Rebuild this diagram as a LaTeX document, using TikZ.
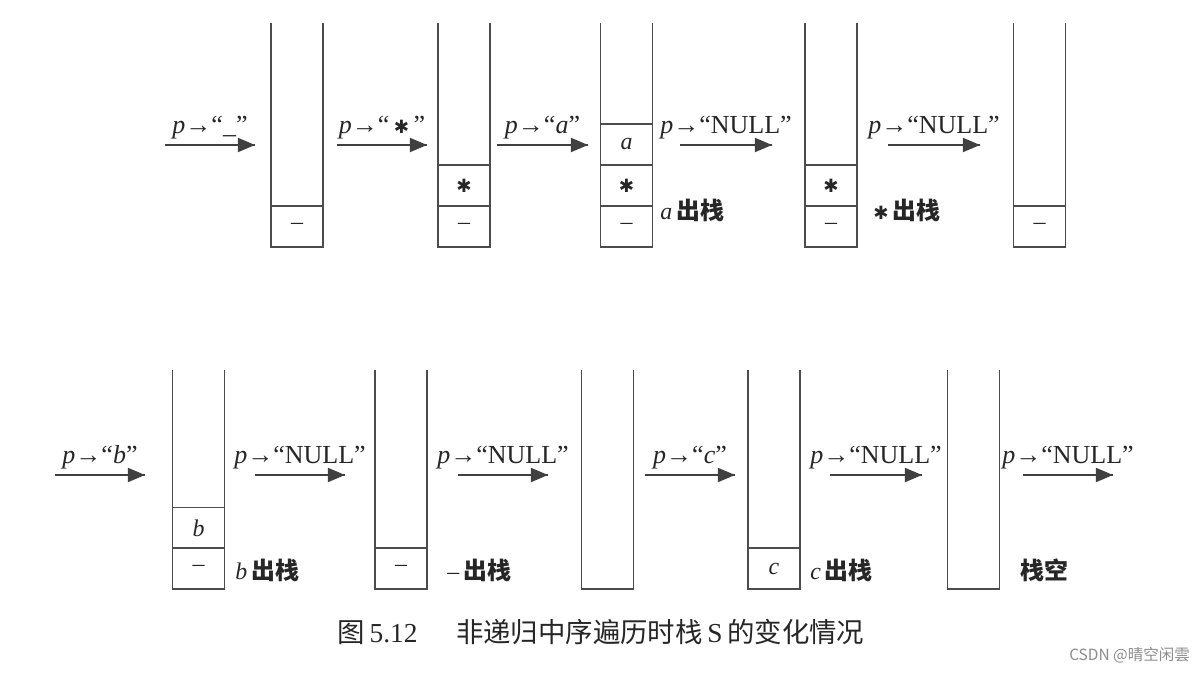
\documentclass[tikz,border=0pt]{standalone}
\usepackage{fontspec}
\setmainfont{Liberation Serif}
\newfontfamily\cjk{Noto Sans CJK SC}
\newfontfamily\symfont{DejaVu Sans}
\usetikzlibrary{arrows}
\usetikzlibrary{decorations.markings}
\usetikzlibrary{positioning}
\tikzset{push/.style = {line width = 1pt, draw = black!75,
                        decoration={markings,
                                    mark=at position 1 with {\arrow[scale=1.4, black!75]{triangle 45}}},
                        postaction={decorate}}}
\tikzset{wall/.style = {line width = 1.2pt, draw = black!70}}
\tikzset{cell/.style = {wall, rectangle, inner sep = 0, minimum width = 1.3cm,
                        minimum height = 1.025cm, text = black!85,
                        font = \fontsize{17}{17}\selectfont}}
\tikzset{lab/.style = {inner sep = 0, text = black!85, font = \fontsize{18.5}{18.5}\selectfont}}
\tikzset{pop/.style = {anchor = west, inner sep = 0, text = black!85,
                       font = \fontsize{17}{17}\selectfont}}
\newcommand{\astsym}{{\symfont\fontsize{13}{13}\selectfont ✱}}
\newcommand{\popzh}[1]{{\cjk\bfseries #1}}

\begin{document}
\begin{tikzpicture}[x = 0.025cm, y = -0.025cm]
      \useasboundingbox (0, 0) rectangle (1200, 674);

      % top row: stacks
      \draw [wall] (271, 23) -- (271, 247) -- (323, 247) -- (323, 23);
      \draw [wall] (438, 23) -- (438, 247) -- (490, 247) -- (490, 23);
      \draw [wall] (600.5, 23) -- (600.5, 247) -- (652.5, 247) -- (652.5, 23);
      \draw [wall] (805, 23) -- (805, 247) -- (857, 247) -- (857, 23);
      \draw [wall] (1013.5, 23) -- (1013.5, 247) -- (1065.5, 247) -- (1065.5, 23);

      \node [cell] (s1m) at (297, 226.5) {–};
      \node [cell] (s2s) at (464, 185.5) {\astsym};
      \node [cell] (s2m) at (464, 226.5) {–};
      \node [cell] (s3a) at (626.5, 144.5) {\textit{a}};
      \node [cell] (s3s) at (626.5, 185.5) {\astsym};
      \node [cell] (s3m) at (626.5, 226.5) {–};
      \node [cell] (s4s) at (831, 185.5) {\astsym};
      \node [cell] (s4m) at (831, 226.5) {–};
      \node [cell] (s5m) at (1039.5, 226.5) {–};

      \node [pop] (pop3) at (660, 210) {\textit{a}\,\popzh{出栈}};
      \node [pop] (pop4) at (873, 210) {\astsym\,\popzh{出栈}};

      % top row: p moves
      \coordinate (t1s) at (165, 145);  \coordinate (t1e) at (255, 145);
      \coordinate (t2s) at (337, 145);  \coordinate (t2e) at (427, 145);
      \coordinate (t3s) at (497, 145);  \coordinate (t3e) at (588, 145);
      \coordinate (t4s) at (680, 145);  \coordinate (t4e) at (772, 145);
      \coordinate (t5s) at (888, 145);  \coordinate (t5e) at (980, 145);
      \draw [push] (t1s) -- (t1e) node (t1l) [lab, midway, anchor = base, yshift = 8pt] {\textit{p}→“\_”};
      \draw [push] (t2s) -- (t2e) node (t2l) [lab, midway, anchor = base, yshift = 8pt] {\textit{p}→“\,\astsym\,”};
      \draw [push] (t3s) -- (t3e) node (t3l) [lab, midway, anchor = base, yshift = 8pt] {\textit{p}→“\textit{a}”};
      \draw [push] (t4s) -- (t4e) node (t4l) [lab, midway, anchor = base, yshift = 8pt] {\textit{p}→“NULL”};
      \draw [push] (t5s) -- (t5e) node (t5l) [lab, midway, anchor = base, yshift = 8pt] {\textit{p}→“NULL”};

      % bottom row: stacks
      \draw [wall] (172.5, 370) -- (172.5, 589) -- (224.5, 589) -- (224.5, 370);
      \draw [wall] (375, 370) -- (375, 589) -- (427, 589) -- (427, 370);
      \draw [wall] (581.5, 370) -- (581.5, 589) -- (633.5, 589) -- (633.5, 370);
      \draw [wall] (748, 370) -- (748, 589) -- (800, 589) -- (800, 370);
      \draw [wall] (947.5, 370) -- (947.5, 589) -- (999.5, 589) -- (999.5, 370);

      \node [cell] (s6b) at (198.5, 528) {\textit{b}};
      \node [cell] (s6m) at (198.5, 568.5) {–};
      \node [cell] (s7m) at (401, 568.5) {–};
      \node [cell] (s9c) at (774, 568.5) {\textit{c}};

      \node [pop] (pop6) at (235, 570) {\textit{b}\,\popzh{出栈}};
      \node [pop] (pop7) at (447, 570) {–\,\popzh{出栈}};
      \node [pop] (pop9) at (810, 570) {\textit{c}\,\popzh{出栈}};
      \node [pop] (pop10) at (1020, 570) {\popzh{栈空}};

      % bottom row: p moves
      \coordinate (b1s) at (55, 475);   \coordinate (b1e) at (145, 475);
      \coordinate (b2s) at (255, 475);  \coordinate (b2e) at (345, 475);
      \coordinate (b3s) at (458, 475);  \coordinate (b3e) at (548, 475);
      \coordinate (b4s) at (645, 475);  \coordinate (b4e) at (735, 475);
      \coordinate (b5s) at (830, 475);  \coordinate (b5e) at (922, 475);
      \coordinate (b6s) at (1023, 475); \coordinate (b6e) at (1113, 475);
      \draw [push] (b1s) -- (b1e) node (b1l) [lab, midway, anchor = base, yshift = 8pt] {\textit{p}→“\textit{b}”};
      \draw [push] (b2s) -- (b2e) node (b2l) [lab, midway, anchor = base, yshift = 8pt] {\textit{p}→“NULL”};
      \draw [push] (b3s) -- (b3e) node (b3l) [lab, midway, anchor = base, yshift = 8pt] {\textit{p}→“NULL”};
      \draw [push] (b4s) -- (b4e) node (b4l) [lab, midway, anchor = base, yshift = 8pt] {\textit{p}→“\textit{c}”};
      \draw [push] (b5s) -- (b5e) node (b5l) [lab, midway, anchor = base, yshift = 8pt] {\textit{p}→“NULL”};
      \draw [push] (b6s) -- (b6e) node (b6l) [lab, midway, anchor = base, yshift = 8pt] {\textit{p}→“NULL”};

      % caption
      \node (cap) [text = black!85, font = \fontsize{19.5}{19.5}\selectfont] at (601, 632)
            {{\cjk 图}\,5.12\hspace{1.4em}{\cjk 非递归中序遍历时栈}\,S\,{\cjk 的变化情况}};
      \node (mark) [anchor = east, inner sep = 0, text = black!45, font = \fontsize{11}{11}\selectfont\cjk]
            at (1190, 655) {CSDN @晴空闲雲};
\end{tikzpicture}
\end{document}
